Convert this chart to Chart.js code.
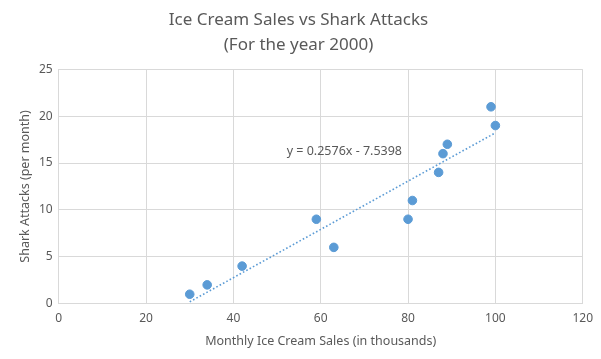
<!DOCTYPE html>
<html>
<head>
<meta charset="utf-8">
<script src="https://cdn.jsdelivr.net/npm/chart.js@4.4.1/dist/chart.umd.min.js"></script>
<style>
  html, body { margin: 0; padding: 0; background: #fff; }
  #wrap { width: 601px; height: 359px; }
</style>
</head>
<body>
<div id="wrap"><canvas id="grafico"></canvas></div>
<script>
// dados
const salesK = [30, 34, 42, 59, 63, 80, 81, 87, 88, 89, 99, 100];
const attacks = [1, 2, 4, 9, 6, 9, 11, 14, 16, 17, 21, 19];
const xTicks = [0, 20, 40, 60, 80, 100, 120];
const yTicks = [0, 5, 10, 15, 20, 25];
// linha de tendência (coeficientes do rótulo)
const slope = 0.2576;
const intercept = -7.5398;
const trendLabel = "y = 0.2576x - 7.5398";

const gray = "#595959";
const blue = "#5b9bd5";
const fontName = "'Noto Sans', 'Open Sans', sans-serif";

const points = salesK.map((x, i) => ({ x: x, y: attacks[i] }));
const xMin = Math.min(...salesK);
const xMax = Math.max(...salesK);
const trend = [
  { x: xMin, y: slope * xMin + intercept },
  { x: xMax, y: slope * xMax + intercept },
];

// plugin para desenhar a equação
const equationPlugin = {
  id: "equation",
  afterDatasetsDraw(chart) {
    const ctx = chart.ctx;
    const xs = chart.scales.x;
    const ys = chart.scales.y;
    ctx.save();
    ctx.font = "12.5px " + fontName;
    ctx.fillStyle = gray;
    ctx.textAlign = "left";
    ctx.textBaseline = "middle";
    ctx.fillText(trendLabel, xs.getPixelForValue(52.2), ys.getPixelForValue(16.2));
    ctx.restore();
  },
};

let grafico = document.getElementById("grafico");
const config = {
  type: "scatter",
  data: {
    datasets: [
      {
        label: "Shark Attacks",
        data: points,
        backgroundColor: blue,
        borderColor: blue,
        pointRadius: 4.3,
        pointHoverRadius: 4.3,
        order: 1,
      },
      {
        label: "Trend",
        type: "line",
        data: trend,
        borderColor: blue,
        borderWidth: 1.6,
        borderDash: [1.6, 2.2],
        pointRadius: 0,
        fill: false,
        order: 2,
      },
    ],
  },
  options: {
    responsive: true,
    maintainAspectRatio: false,
    animation: false,
    layout: { padding: { top: 4, right: 18, left: 14, bottom: 6 } },
    plugins: {
      legend: { display: false },
      tooltip: { enabled: false },
      title: {
        display: true,
        text: ["Ice Cream Sales vs Shark Attacks", "(For the year 2000)"],
        color: gray,
        font: { family: fontName, size: 17, weight: "normal", lineHeight: 1.45 },
        padding: { top: 4, bottom: 12 },
      },
    },
    scales: {
      x: {
        type: "linear",
        min: 0,
        max: 120,
        afterBuildTicks: (axis) => { axis.ticks = xTicks.map((v) => ({ value: v })); },
        grid: { color: "#d9d9d9", drawTicks: false },
        border: { color: "#d9d9d9" },
        ticks: { color: gray, font: { family: fontName, size: 12 }, padding: 8 },
        title: {
          display: true,
          text: "Monthly Ice Cream Sales (in thousands)",
          color: gray,
          font: { family: fontName, size: 12.5 },
          padding: { top: 0 },
        },
      },
      y: {
        type: "linear",
        min: 0,
        max: 25,
        afterBuildTicks: (axis) => { axis.ticks = yTicks.map((v) => ({ value: v })); },
        grid: { color: "#d9d9d9", drawTicks: false },
        border: { color: "#d9d9d9" },
        ticks: { color: gray, font: { family: fontName, size: 12 }, padding: 6 },
        title: {
          display: true,
          text: "Shark Attacks (per month)",
          color: gray,
          font: { family: fontName, size: 12.5 },
          padding: { bottom: 0 },
        },
      },
    },
  },
  plugins: [equationPlugin],
};

let myGraph = new Chart(grafico, config);
</script>
</body>
</html>
